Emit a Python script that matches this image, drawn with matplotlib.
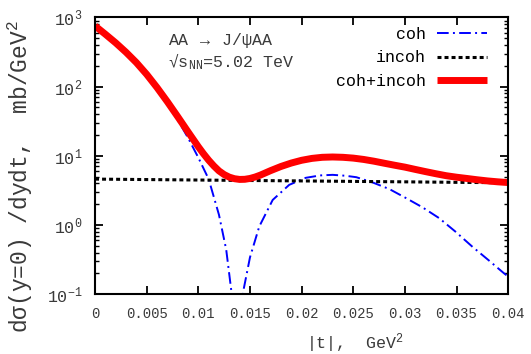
import math
import matplotlib
matplotlib.use("Agg")
import matplotlib.pyplot as plt
from matplotlib.ticker import LogLocator, FixedLocator, FuncFormatter

plt.rcParams["font.family"] = ["Liberation Mono", "DejaVu Sans Mono"]
plt.rcParams["mathtext.fontset"] = "custom"
plt.rcParams["mathtext.rm"] = "Liberation Mono"
plt.rcParams["mathtext.it"] = "Liberation Mono"

# coherent
t_coh = [0, .001, .002, .003, .004, .005, .006, .007, .008, .009, .010, .011,
         .012, .0127, .0132, .0135, .0137, .0138, .0139, .0141, .0144, .0150,
         .0159, .0172, .0188, .0204, .0218, .0230, .0242, .0253, .0269, .0285,
         .0301, .0317, .0333, .0349, .0365, .0381, .0396, .0400]
coh = [748, 566, 424, 309, 218, 146, 93, 56.5, 33, 18.2, 9.4, 4.6,
       1.4, 0.44, 0.11, 0.04, 0.008, 0.001, 0.006, 0.05, 0.12, 0.34,
       0.95, 2.3, 3.8, 4.8, 5.2, 5.3, 5.15, 4.9, 4.1, 3.3,
       2.45, 1.8, 1.26, 0.8, 0.49, 0.31, 0.2, 0.18]

# incoherent
t_inc = [0, .005, .010, .015, .020, .025, .030, .035, .040]
incoh = [4.6, 4.53, 4.46, 4.39, 4.33, 4.26, 4.2, 4.13, 4.07]

# coh+incoh
t_tot = [0, .001, .002, .003, .004, .005, .006, .007, .008, .009, .010,
         .0105, .011, .0115, .012, .0125, .013, .0135, .014, .0145, .015,
         .0155, .016, .017, .018, .019, .020, .021, .022, .023, .024, .025,
         .026, .027, .028, .029, .030, .031, .032, .033, .034, .035, .036,
         .037, .038, .039, .040]
tot = [752, 570, 428, 313, 222, 150, 96.8, 60.4, 36.8, 22.2, 13.5,
       10.7, 8.63, 7.13, 6.04, 5.35, 4.91, 4.66, 4.55, 4.57, 4.70,
       4.93, 5.25, 6.1, 7.0, 7.85, 8.6, 9.16, 9.5, 9.6, 9.5, 9.25,
       8.85, 8.35, 7.8, 7.3, 6.85, 6.35, 5.9, 5.5, 5.15, 4.9, 4.7,
       4.5, 4.33, 4.2, 4.1]

xticks = [0, 0.005, 0.01, 0.015, 0.02, 0.025, 0.03, 0.035, 0.04]
xlabels = ["0", "0.005", "0.01", "0.015", "0.02", "0.025", "0.03", "0.035", "0.04"]

txt = "#3a3a3a"
fig = plt.figure(figsize=(5.31, 3.54), dpi=100)
ax = fig.add_axes([0.179, 0.169, 0.778, 0.782])

ax.plot(t_coh, coh, color="#0000ff", lw=1.4, dashes=(6, 2.2, 1, 2.2), label="coh")
ax.plot(t_inc, incoh, color="black", lw=2.2, dashes=(1.3, 1.0), label="incoh")
ax.plot(t_tot, tot, color="#ff0000", lw=5, solid_capstyle="butt",
        solid_joinstyle="round", label="coh+incoh")

ax.set_yscale("log")
ax.set_xlim(0, 0.04)
ax.set_ylim(0.1, 1000)
ax.xaxis.set_major_locator(FixedLocator(xticks))
ax.set_xticklabels(xlabels, fontsize=10, color=txt)
ax.yaxis.set_major_locator(LogLocator(base=10))
ax.yaxis.set_minor_locator(LogLocator(base=10, subs=range(2, 10)))
ax.yaxis.set_major_formatter(FuncFormatter(
    lambda v, p: r"$\mathregular{10^{%d}}$" % round(math.log10(v))))
ax.tick_params(axis="y", labelsize=12, labelcolor=txt, pad=9)

ax.tick_params(which="both", direction="in", top=True, right=True)
ax.tick_params(which="major", length=5.5, width=1.3)
ax.tick_params(which="minor", length=3, width=1.0)
ax.tick_params(axis="x", pad=9)
for s in ax.spines.values():
    s.set_linewidth(1.5)

ax.set_ylabel("dσ(y=0) /dydt,  mb/GeV$^2$", fontsize=16.5, color=txt)
ax.yaxis.set_label_coords(-0.145, 0.425)
ax.set_xlabel("|t|,  GeV$^2$", fontsize=12, color=txt)
ax.xaxis.set_label_coords(0.63, -0.135)

ax.text(0.177, 0.915, r"AA $\rightarrow$ J/ψAA", transform=ax.transAxes,
        fontsize=12, color=txt, va="center")
ax.text(0.177, 0.839, "√s$_{\\mathregular{NN}}$=5.02 TeV", transform=ax.transAxes,
        fontsize=12, color=txt, va="center")

ax.legend(loc="upper right", bbox_to_anchor=(0.949, 0.965), frameon=False,
          markerfirst=False, fontsize=12, handlelength=3.0, handletextpad=0.65,
          labelspacing=0.5, borderaxespad=0, borderpad=0)

fig.savefig("out.png", dpi=100)
